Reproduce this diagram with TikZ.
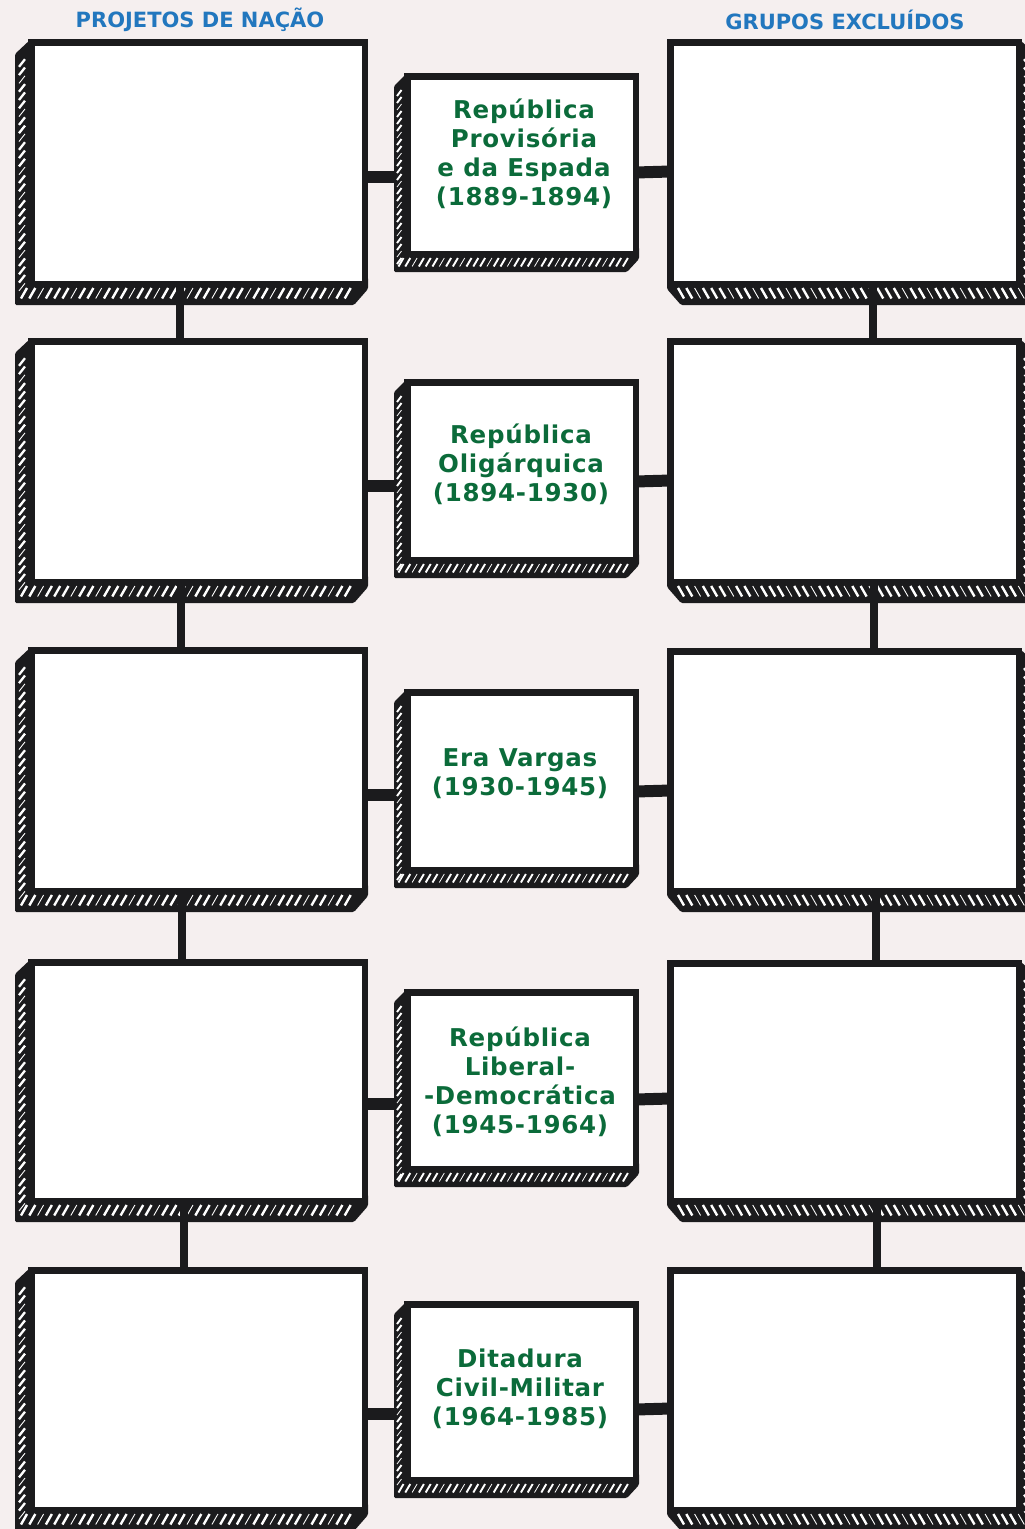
\documentclass[tikz,border=0pt]{standalone}
\usepackage{fontspec}
\setmainfont{DejaVu Sans}
\newfontfamily\lblfont{DejaVu Sans}[LetterSpace=3.0]
\usetikzlibrary{calc}
\definecolor{bgc}{HTML}{F5EFEF}
\definecolor{ink}{HTML}{1B1B1D}
\definecolor{grn}{HTML}{0B6B3A}
\definecolor{blu}{HTML}{2277BE}
\pgfdeclarelayer{bg}\pgfdeclarelayer{conn}\pgfsetlayers{bg,conn,main}
\tikzset{
 facebox/.style={draw=ink, line width=6.5pt, fill=white, rectangle, inner sep=0pt, outer sep=0pt},
 hatchmark/.style={white, line cap=butt},
 hconn/.style={ink, line width=12pt},
 vconn/.style={ink, line width=8.5pt},
 headtxt/.style={text=blu, font=\bfseries\fontsize{21}{24}\selectfont, inner sep=0pt},
 periodtxt/.style={text=grn, font=\lblfont\bfseries\fontsize{24.5}{29}\selectfont, align=center, inner sep=0pt},
}
% box with depth to the lower left: name, x1, y1, x2, y2 (front face, outer)
\newcommand\LBox[5]{%
 \fill[ink, rounded corners=1.5pt] (#2+3,#3) -- (#2-13,#3+15) -- (#2-13,#5+18) -- (#4-14,#5+18) -- (#4,#5+2) -- (#4,#5-10) -- (#2,#5-10) -- cycle;
 \pgfmathsetmacro\ysA{#3+24}\pgfmathsetmacro\ysB{#3+32.3}\pgfmathsetmacro\ysE{#5+6}%
 \foreach \yy [count=\k] in {\ysA,\ysB,...,\ysE}{\pgfmathsetmacro\lw{mod(\k*5,7)<2 ? 0.9 : 2.3}\draw[hatchmark, line width=\lw pt] (#2-9,\yy+3.8) -- (#2-3,\yy-3.8);}
 \pgfmathsetmacro\xsA{#2-4}\pgfmathsetmacro\xsB{#2+4.3}\pgfmathsetmacro\xsE{#4-14}%
 \foreach \xx [count=\k] in {\xsA,\xsB,...,\xsE}{\pgfmathsetmacro\lw{mod(\k*5,7)<2 ? 0.9 : 2.4}\draw[hatchmark, line width=\lw pt] (\xx-3,#5+11.5) -- (\xx+3,#5+1);}
 \pgfmathsetmacro\bw{#4-#2-6.5}\pgfmathsetmacro\bh{#5-#3-6.5}%
 \node[facebox, minimum width=\bw pt, minimum height=\bh pt] (#1) at ({(#2+#4)/2},{(#3+#5)/2}) {};
}
% box with depth to the lower right
\newcommand\RBox[5]{%
 \fill[ink, rounded corners=1.5pt] (#4-3,#3) -- (#4+13,#3+15) -- (#4+13,#5+18) -- (#2+14,#5+18) -- (#2,#5+2) -- (#2,#5-10) -- (#4,#5-10) -- cycle;
 \pgfmathsetmacro\ysA{#3+24}\pgfmathsetmacro\ysB{#3+32.3}\pgfmathsetmacro\ysE{#5+6}%
 \foreach \yy [count=\k] in {\ysA,\ysB,...,\ysE}{\pgfmathsetmacro\lw{mod(\k*5,7)<2 ? 0.9 : 2.3}\draw[hatchmark, line width=\lw pt] (#4+2,\yy-3.8) -- (#4+8,\yy+3.8);}
 \pgfmathsetmacro\xsA{#2+14}\pgfmathsetmacro\xsB{#2+22.3}\pgfmathsetmacro\xsE{#4+6}%
 \foreach \xx [count=\k] in {\xsA,\xsB,...,\xsE}{\pgfmathsetmacro\lw{mod(\k*5,7)<2 ? 0.9 : 2.4}\draw[hatchmark, line width=\lw pt] (\xx-3,#5+1) -- (\xx+3,#5+11.5);}
 \pgfmathsetmacro\bw{#4-#2-6.5}\pgfmathsetmacro\bh{#5-#3-6.5}%
 \node[facebox, minimum width=\bw pt, minimum height=\bh pt] (#1) at ({(#2+#4)/2},{(#3+#5)/2}) {};
}
% middle box, smaller depth to the lower left
\newcommand\MBox[5]{%
 \fill[ink, rounded corners=1.5pt] (#2+3,#3) -- (#2-10,#3+13) -- (#2-10,#5+15) -- (#4-12,#5+15) -- (#4,#5+2) -- (#4,#5-10) -- (#2,#5-10) -- cycle;
 \pgfmathsetmacro\ysA{#3+20}\pgfmathsetmacro\ysB{#3+27}\pgfmathsetmacro\ysE{#5+5}%
 \foreach \yy [count=\k] in {\ysA,\ysB,...,\ysE}{\pgfmathsetmacro\lw{mod(\k*5,7)<2 ? 0.8 : 1.9}\draw[hatchmark, line width=\lw pt] (#2-7,\yy+3) -- (#2-2.5,\yy-3);}
 \pgfmathsetmacro\xsA{#2-3}\pgfmathsetmacro\xsB{#2+3.8}\pgfmathsetmacro\xsE{#4-12}%
 \foreach \xx [count=\k] in {\xsA,\xsB,...,\xsE}{\pgfmathsetmacro\lw{mod(\k*5,7)<2 ? 0.8 : 1.9}\draw[hatchmark, line width=\lw pt] (\xx-2.5,#5+9.5) -- (\xx+2.5,#5+1);}
 \pgfmathsetmacro\bw{#4-#2-6.5}\pgfmathsetmacro\bh{#5-#3-6.5}%
 \node[facebox, minimum width=\bw pt, minimum height=\bh pt] (#1) at ({(#2+#4)/2},{(#3+#5)/2}) {};
}
\begin{document}
\begin{tikzpicture}[x=1pt,y=-1pt]
\begin{pgfonlayer}{bg}\fill[bgc] (0,0) rectangle (1025,1529);\end{pgfonlayer}
\useasboundingbox (0,0) rectangle (1025,1529);
\clip (0,0) rectangle (1025,1529);

\node[headtxt] (H1) at (200,20) {PROJETOS DE NAÇÃO};
\node[headtxt] (H2) at (845,20) {GRUPOS EXCLUÍDOS};

\LBox{L1}{28}{39}{368}{287}
\LBox{L2}{28}{338}{368}{585}
\LBox{L3}{28}{647}{368}{894}
\LBox{L4}{28}{959}{368}{1204}
\LBox{L5}{28}{1267}{368}{1513}

\RBox{R1}{667}{39}{1022}{287}
\RBox{R2}{667}{338}{1022}{585}
\RBox{R3}{667}{648}{1022}{894}
\RBox{R4}{667}{960}{1022}{1204}
\RBox{R5}{667}{1267}{1022}{1513}

\MBox{M1}{404}{73}{639}{257}
\MBox{M2}{404}{379}{639}{563}
\MBox{M3}{404}{689}{639}{873}
\MBox{M4}{404}{989}{639}{1172}
\MBox{M5}{404}{1301}{639}{1483}

\node[periodtxt] (T1) at (524,154) {República\\Provisória\\e da Espada\\(1889-1894)};
\node[periodtxt] (T2) at (521,464) {República\\Oligárquica\\(1894-1930)};
\node[periodtxt] (T3) at (520,774) {Era Vargas\\(1930-1945)};
\node[periodtxt] (T4) at (520,1082) {República\\Liberal-\\-Democrática\\(1945-1964)};
\node[periodtxt] (T5) at (520,1389) {Ditadura\\Civil-Militar\\(1964-1985)};

\begin{pgfonlayer}{conn}
\draw[hconn] (L1.east |- 0,177) -- (M1.west |- 0,177);
\draw[hconn] (L2.east |- 0,486) -- (M2.west |- 0,486);
\draw[hconn] (L3.east |- 0,795) -- (M3.west |- 0,795);
\draw[hconn] (L4.east |- 0,1104) -- (M4.west |- 0,1104);
\draw[hconn] (L5.east |- 0,1414) -- (M5.west |- 0,1414);
\draw[hconn] (M1.east |- 0,172.5) -- (R1.west |- 0,171.5);
\draw[hconn] (M2.east |- 0,481.5) -- (R2.west |- 0,480.5);
\draw[hconn] (M3.east |- 0,791.5) -- (R3.west |- 0,790.5);
\draw[hconn] (M4.east |- 0,1099.5) -- (R4.west |- 0,1098.5);
\draw[hconn] (M5.east |- 0,1409.5) -- (R5.west |- 0,1408.5);
\end{pgfonlayer}

\draw[vconn] (L1.south -| 180,0) -- (L2.north -| 180,0);
\draw[vconn] (L2.south -| 181,0) -- (L3.north -| 181,0);
\draw[vconn] (L3.south -| 182,0) -- (L4.north -| 182,0);
\draw[vconn] (L4.south -| 184,0) -- (L5.north -| 184,0);
\draw[vconn] (R1.south -| 873,0) -- (R2.north -| 873,0);
\draw[vconn] (R2.south -| 874,0) -- (R3.north -| 874,0);
\draw[vconn] (R3.south -| 876,0) -- (R4.north -| 876,0);
\draw[vconn] (R4.south -| 877,0) -- (R5.north -| 877,0);
\end{tikzpicture}
\end{document}
